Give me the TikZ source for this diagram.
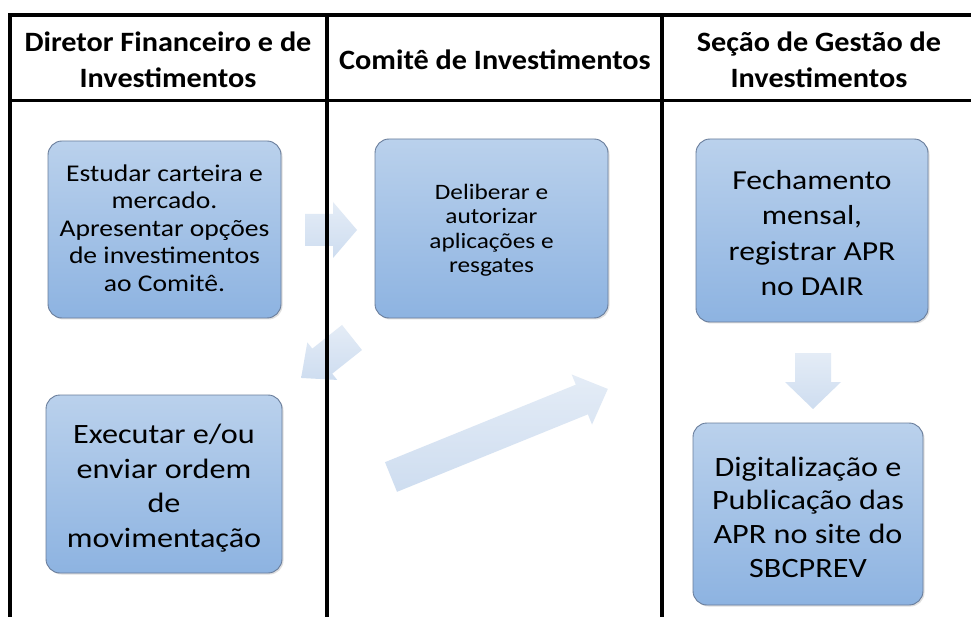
\documentclass[tikz,border=0pt]{standalone}
\usepackage{fontspec}
\setmainfont{Carlito}
\newfontfamily\bodyfont[FakeStretch=1.15]{Carlito}
\newfontfamily\headfont[FakeStretch=1.08]{Carlito}
\usetikzlibrary{shadows}
\definecolor{boxtop}{RGB}{186,209,236}
\definecolor{boxbot}{RGB}{141,179,225}
\definecolor{boxline}{RGB}{105,125,155}
\definecolor{arrtop}{RGB}{228,236,246}
\definecolor{arrbot}{RGB}{206,221,240}
\tikzset{
  procbox/.style={rounded corners=14pt, top color=boxtop, bottom color=boxbot,
    draw=boxline, line width=0.9pt, align=center, inner sep=2pt,
    drop shadow={shadow xshift=1.5pt, shadow yshift=-1.5pt, opacity=0.25}},
  arrowfill/.style={top color=arrtop, bottom color=arrbot, draw=none},
  gridline/.style={line width=3.6pt, black, line join=miter},
  headtext/.style={font=\headfont\bfseries\fontsize{28}{36}\selectfont, align=center, text=black}
}
\newcommand{\boxtext}[2]{\raisebox{#1}[0pt][0pt]{\begin{tabular}{@{}c@{}}#2\end{tabular}}}
\newcommand{\blockarr}[7]{%
  \begin{scope}[shift={(#1,#2)},rotate=#3]
    \path[arrowfill] (0,-#5) -- ({#4-#7},-#5) -- ({#4-#7},-#6) -- (#4,0) -- ({#4-#7},#6) -- ({#4-#7},#5) -- (0,#5) -- cycle;
  \end{scope}}
\begin{document}
\begin{tikzpicture}[x=1pt,y=1pt]
\useasboundingbox (0,0) rectangle (971,-617);
\fill[white] (0,0) rectangle (971,-617);
% arrows (behind the grid lines)
\blockarr{305}{-230}{0}{52}{16}{28}{24}
\blockarr{352}{-337.5}{218.5}{65}{16}{24}{27}
\blockarr{391}{-477}{22.1}{234}{16}{27}{28}
\blockarr{813}{-353}{-90}{56}{18}{28}{27}
% grid
\draw[gridline] (10,-617) -- (10,-15) -- (971,-15);
\draw[gridline] (10,-100.5) -- (971,-100.5);
\draw[gridline] (327,-15) -- (327,-617);
\draw[gridline] (662,-15) -- (662,-617);
% headers
\node[headtext] (h1) at (168,-60) {Diretor Financeiro e de\\Investimentos};
\node[headtext] (h2) at (495,-60) {Comitê de Investimentos};
\node[headtext] (h3) at (819,-60) {Seção de Gestão de\\Investimentos};
% boxes
\node[procbox, minimum width=233pt, minimum height=177pt, font=\bodyfont\fontsize{24}{27.5}\selectfont] (b1) at (164.5,-229.5)
  {\boxtext{-7.6pt}{Estudar carteira e\\mercado.\\Apresentar opções\\de investimentos\\ao Comitê.}};
\node[procbox, minimum width=233pt, minimum height=179pt, font=\bodyfont\fontsize{22}{24.5}\selectfont] (b2) at (491.5,-228.5)
  {\boxtext{-7.7pt}{Deliberar e\\autorizar\\aplicações e\\resgates}};
\node[procbox, minimum width=232pt, minimum height=183pt, font=\bodyfont\fontsize{27.5}{35.5}\selectfont] (b3) at (812,-230.5)
  {\boxtext{-11.2pt}{Fechamento\\mensal,\\registrar APR\\no DAIR}};
\node[procbox, minimum width=236pt, minimum height=178pt, font=\bodyfont\fontsize{28}{34.5}\selectfont] (b4) at (164,-484)
  {\boxtext{-10.6pt}{Executar e/ou\\enviar ordem\\de\\movimentação}};
\node[procbox, minimum width=230pt, minimum height=182pt, font=\bodyfont\fontsize{28}{33.7}\selectfont] (b5) at (808,-514)
  {\boxtext{-12.3pt}{Digitalização e\\Publicação das\\APR no site do\\SBCPREV}};
\end{tikzpicture}
\end{document}
